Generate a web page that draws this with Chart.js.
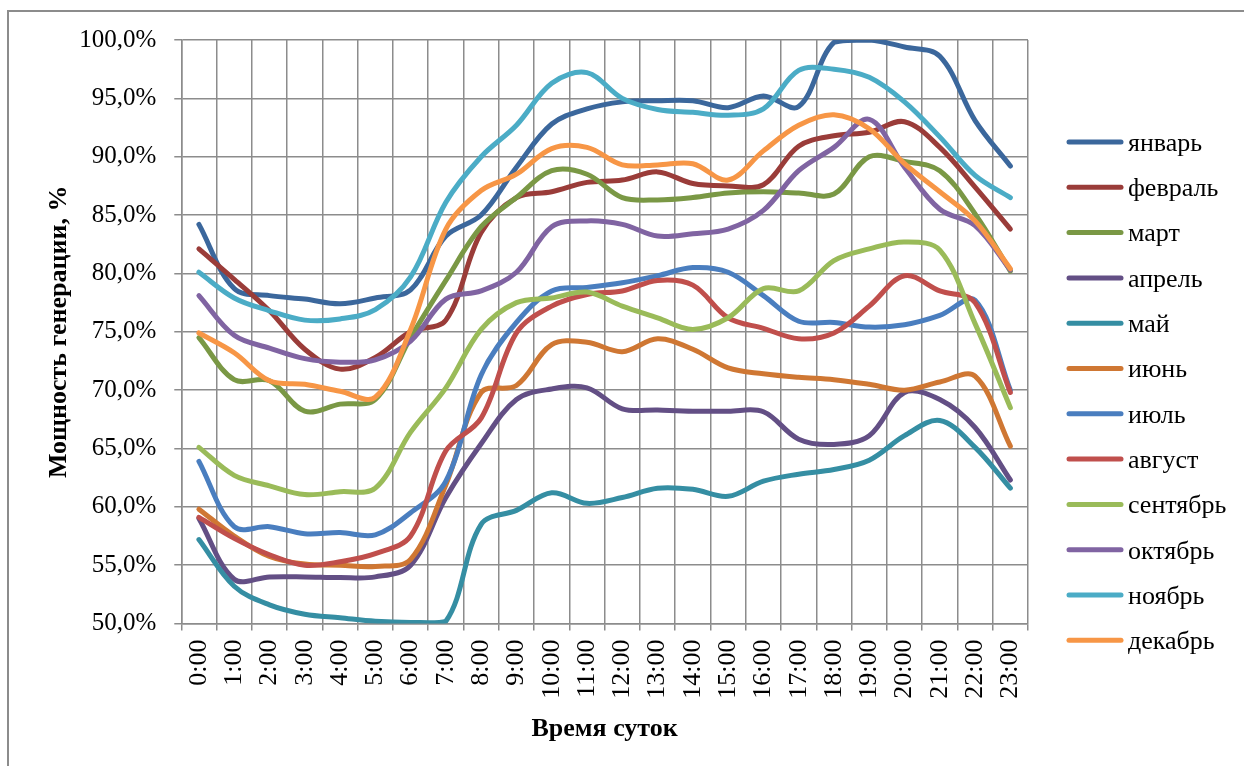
<!DOCTYPE html>
<html>
<head>
<meta charset="utf-8">
<script src="https://cdn.jsdelivr.net/npm/chart.js@4/dist/chart.umd.min.js"></script>
<style>
  body { margin: 0; background: #fff; overflow: hidden; }
  #frame { position: absolute; left: 7px; top: 10px; width: 1300px; height: 800px; border: 2px solid #8c8c8c; }
  #wrap { position: absolute; left: 0; top: 0; width: 1244px; height: 766px; }
</style>
</head>
<body>
<div id="frame"></div>
<div id="wrap"><canvas id="chart"></canvas></div>
<script>
var hours = ["0:00","1:00","2:00","3:00","4:00","5:00","6:00","7:00","8:00","9:00","10:00","11:00",
  "12:00","13:00","14:00","15:00","16:00","17:00","18:00","19:00","20:00","21:00","22:00","23:00"];

var months = ["январь","февраль","март","апрель","май","июнь","июль","август","сентябрь","октябрь","ноябрь","декабрь"];
var colors = ["#3b679c","#9a3c39","#7a9845","#634f85","#358ea3","#cf7733",
  "#4a7ebf","#c04f4c","#9abb59","#8064a2","#4bacc6","#f79646"];

var jan = [84.2,78.7,78.1,77.8,77.4,77.9,78.6,83.2,85.0,89.1,92.8,94.1,94.7,94.8,94.8,94.2,95.2,94.3,99.8,100.0,99.4,98.6,93.1,89.2];
var feb = [82.1,79.5,76.8,73.5,71.8,72.8,75.0,76.0,83.5,86.5,87.0,87.8,88.0,88.7,87.7,87.5,87.6,90.9,91.8,92.1,93.0,90.8,87.4,83.8];
var mar = [74.5,70.9,70.8,68.2,68.8,69.2,74.5,79.4,84.0,86.5,88.8,88.5,86.5,86.3,86.5,86.9,87.0,86.9,86.8,90.0,89.6,88.8,85.1,80.2];
var apr = [59.0,53.8,54.0,54.0,53.95,54.0,55.0,60.8,65.4,69.2,70.1,70.2,68.4,68.3,68.2,68.2,68.15,65.8,65.35,66.1,69.8,69.2,66.8,62.3];
var may = [57.2,53.2,51.6,50.8,50.5,50.2,50.1,50.2,58.5,59.7,61.2,60.3,60.8,61.6,61.5,60.9,62.2,62.8,63.2,64.0,66.1,67.4,65.1,61.6];
var jun = [59.8,57.5,55.75,55.1,55.0,54.9,55.5,61.9,69.8,70.4,73.9,74.1,73.3,74.4,73.5,71.9,71.4,71.1,70.9,70.5,70.0,70.7,71.2,65.2];
var jul = [63.9,58.3,58.3,57.7,57.8,57.6,59.5,62.2,71.3,75.8,78.5,78.8,79.2,79.8,80.5,80.1,78.1,75.9,75.8,75.4,75.6,76.4,77.7,70.0];
var aug = [59.1,57.3,55.9,55.0,55.3,56.0,57.5,64.8,67.6,74.9,77.2,78.2,78.5,79.4,79.0,76.2,75.3,74.4,74.9,77.2,79.8,78.5,77.5,69.8];
var sep = [65.1,62.7,61.8,61.05,61.3,61.6,66.4,70.2,75.2,77.5,77.9,78.4,77.2,76.2,75.2,76.2,78.7,78.5,81.1,82.1,82.7,82.0,75.7,68.5];
var oct = [78.1,74.7,73.6,72.7,72.4,72.6,74.2,77.8,78.5,80.1,84.0,84.5,84.2,83.2,83.4,83.8,85.4,88.8,90.8,93.2,89.1,85.5,84.1,80.3];
var nov = [80.1,77.9,76.8,76.0,76.1,76.9,79.7,86.1,90.0,92.7,96.3,97.2,95.0,94.05,93.8,93.55,94.1,97.4,97.5,96.8,94.7,91.7,88.4,86.5];
var dec = [74.9,73.2,70.8,70.5,69.9,69.4,75.2,83.8,87.1,88.5,90.7,90.8,89.3,89.3,89.4,88.0,90.5,92.7,93.6,92.4,89.4,87.0,84.5,80.4];

var series = [jan, feb, mar, apr, may, jun, jul, aug, sep, oct, nov, dec];

var yMin = 50, yMax = 100, yStep = 5;

var FONT = "'Liberation Serif', 'Times New Roman', serif";
var GRID = "#8c8c8c";

var datasets = [];
for (let i = 0; i < series.length; i++) {
  datasets.push({
    label: months[i],
    data: series[i],
    borderColor: colors[i],
    backgroundColor: colors[i],
    borderWidth: 5,
    pointRadius: 0,
    tension: 0.35,
    borderCapStyle: 'round',
    borderJoinStyle: 'round',
    fill: false,
    order: series.length - i
  });
}

// legend drawn by hand so it sits where the original one is
const sideLegend = {
  id: 'sideLegend',
  afterDraw(chart) {
    const ctx = chart.ctx;
    const area = chart.chartArea;
    const x0 = area.right + 39;
    const y0 = area.top + 102;
    const gap = 45.3;
    ctx.save();
    ctx.font = "26px " + FONT;
    ctx.textBaseline = 'middle';
    ctx.lineCap = 'round';
    ctx.lineWidth = 5;
    chart.data.datasets.forEach(function (ds, i) {
      const y = y0 + i * gap;
      ctx.strokeStyle = ds.borderColor;
      ctx.beginPath();
      ctx.moveTo(x0 + 2, y);
      ctx.lineTo(x0 + 54, y);
      ctx.stroke();
      ctx.fillStyle = '#000';
      ctx.fillText(ds.label, x0 + 61, y + 2);
    });
    ctx.restore();
  }
};

new Chart(document.getElementById('chart'), {
  type: 'line',
  data: { labels: hours, datasets: datasets },
  options: {
    responsive: true,
    maintainAspectRatio: false,
    animation: false,
    layout: { padding: { left: 40, right: 216, top: 40, bottom: 21 } },
    plugins: {
      legend: { display: false },
      tooltip: { enabled: false }
    },
    scales: {
      x: {
        offset: true,
        grid: { offset: true, color: GRID, lineWidth: 1.5, tickLength: 7 },
        border: { color: GRID, width: 1.5 },
        ticks: {
          color: '#000',
          font: { family: FONT, size: 26 },
          minRotation: 90,
          maxRotation: 90,
          padding: 9,
          autoSkip: false
        },
        title: {
          display: true,
          text: 'Время суток',
          color: '#000',
          font: { family: FONT, size: 26, weight: 'bold' },
          padding: { top: 6, bottom: 0 }
        }
      },
      y: {
        min: yMin,
        max: yMax,
        grid: { color: GRID, lineWidth: 1.5, tickLength: 7 },
        border: { color: GRID, width: 1.5 },
        ticks: {
          stepSize: yStep,
          color: '#000',
          font: { family: FONT, size: 25 },
          padding: 18,
          callback: function (v) { return v.toFixed(1).replace('.', ',') + '%'; }
        },
        title: {
          display: true,
          text: 'Мощность генерации, %',
          color: '#000',
          font: { family: FONT, size: 26, weight: 'bold' },
          padding: { top: 4, bottom: -14 }
        }
      }
    }
  },
  plugins: [sideLegend]
});
</script>
</body>
</html>
